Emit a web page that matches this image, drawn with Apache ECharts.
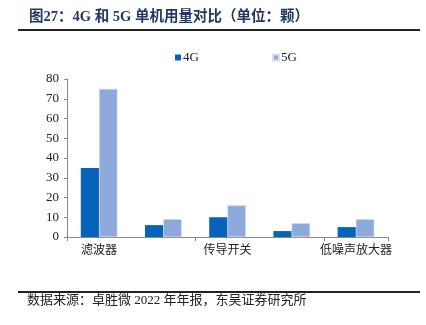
<!DOCTYPE html>
<html><head><meta charset="utf-8">
<script src="https://cdn.jsdelivr.net/npm/echarts@6/dist/echarts.min.js"></script>
<style>html,body{margin:0;padding:0;background:#fff}#c{width:426px;height:325px}</style>
</head><body><div id="c"></div>
<script>
var categories = ['滤波器', '功率放大器', '传导开关', '天线调谐开关', '低噪声放大器'];
var series4G = [35, 6, 10, 3, 5];
var series5G = [75, 9, 16, 7, 9];
var yTicks = {min: 0, max: 80, interval: 10};

var serif = '"Liberation Serif", "Noto Sans CJK SC", serif';
var chart = echarts.init(document.getElementById('c'), null, {renderer: 'canvas'});
chart.setOption({
  animation: false,
  backgroundColor: '#fff',
  title: {
    text: '图27：4G 和 5G 单机用量对比（单位：颗）',
    left: 24, top: 5,
    textStyle: {fontFamily: serif, fontSize: 14.5, fontWeight: 'bold', color: '#1F3864'}
  },
  graphic: [
    {type: 'line', shape: {x1: 18, y1: 30, x2: 420, y2: 30}, style: {stroke: '#222', lineWidth: 2}},
    {type: 'line', shape: {x1: 18, y1: 292, x2: 420, y2: 292}, style: {stroke: '#222', lineWidth: 2}},
    {type: 'text', left: 27, top: 294, style: {text: '数据来源：卓胜微 2022 年年报，东吴证券研究所', font: '13px ' + serif, fill: '#222'}}
  ],
  legend: [
    {data: ['4G'], left: 170, top: 46, itemWidth: 6, itemHeight: 6, itemGap: 2, icon: 'rect',
     textStyle: {fontFamily: serif, fontSize: 13, color: '#222', padding: [0, 0, 0, -3]}},
    {data: ['5G'], left: 267, top: 46, itemWidth: 6, itemHeight: 6, itemGap: 2, icon: 'rect',
     textStyle: {fontFamily: serif, fontSize: 13, color: '#222', padding: [0, 0, 0, -3]}}
  ],
  grid: {left: 67, right: 38, top: 79, bottom: 88, containLabel: false},
  xAxis: {
    type: 'category', data: categories,
    axisLine: {lineStyle: {color: '#888'}},
    axisTick: {show: true, alignWithLabel: false, length: 4, lineStyle: {color: '#888'}},
    axisLabel: {interval: 1, fontFamily: serif, fontSize: 12, color: '#222', margin: 8}
  },
  yAxis: {
    type: 'value', min: yTicks.min, max: yTicks.max, interval: yTicks.interval,
    axisLine: {show: true, lineStyle: {color: '#888'}},
    axisTick: {show: true, length: 3, lineStyle: {color: '#888'}},
    splitLine: {show: false},
    axisLabel: {fontFamily: serif, fontSize: 13, color: '#222', margin: 8}
  },
  series: [
    {name: '4G', type: 'bar', data: series4G, barGap: '0%', barCategoryGap: '43%',
     itemStyle: {color: '#0563B9'}},
    {name: '5G', type: 'bar', data: series5G, barGap: '0%', barCategoryGap: '43%',
     itemStyle: {color: '#8EA9DB', borderColor: '#D6E0F2', borderWidth: 0.5}}
  ]
});
</script></body></html>
